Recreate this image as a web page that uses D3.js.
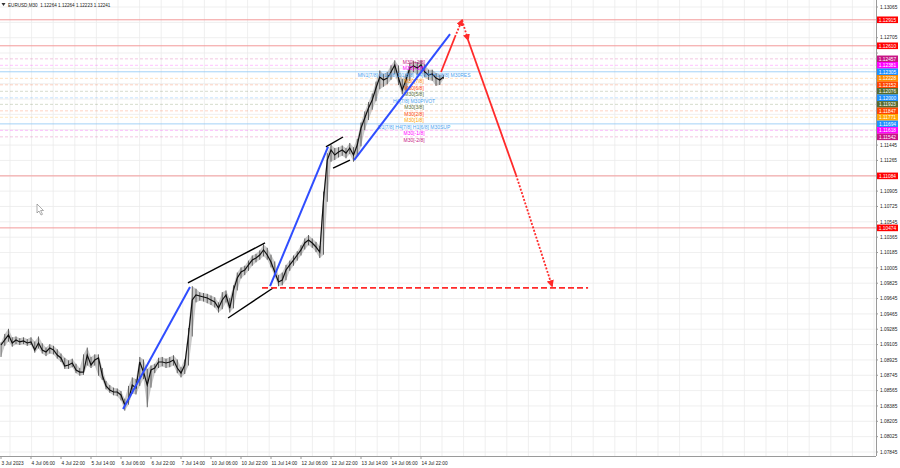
<!DOCTYPE html>
<html><head><meta charset="utf-8">
<script src="https://cdn.jsdelivr.net/npm/d3@7/dist/d3.min.js"></script>
<style>html,body{margin:0;padding:0;background:#fff;overflow:hidden}svg{display:block;font-family:"Liberation Sans",Arial,sans-serif}</style>
</head><body><svg id="c" width="900" height="468"></svg>
<script>
// ---------------- DATA ----------------
const titleText = "EURUSD,M30  1.12264 1.12264 1.12223 1.12241";
const lastPrice = 1.12241;
const barStepHours = 2; // one sample every 2 trading hours starting 3 Jul 14:00
const closes = [1.09100,1.09159,1.09218,1.09124,1.09159,1.09136,1.09147,1.09124,1.09136,1.09042,
1.09124,1.09042,1.09018,1.09065,1.09042,1.08983,1.08948,1.08854,1.08866,1.08889,
1.08807,1.08783,1.08783,1.08983,1.08866,1.08924,1.08948,1.08748,1.08619,1.08572,
1.08549,1.08549,1.08514,1.08397,1.08455,1.08631,1.08596,1.08901,1.08783,1.08631,
1.08807,1.08830,1.08901,1.08901,1.08889,1.08901,1.08924,1.08830,1.08772,1.08866,
1.09218,1.09628,1.09687,1.09675,1.09663,1.09651,1.09628,1.09604,1.09534,1.09628,
1.09687,1.09534,1.09745,1.09886,1.09956,1.09980,1.10039,1.10097,1.10121,1.10156,
1.10215,1.10156,1.10074,1.09956,1.09839,1.09863,1.09980,1.10039,1.10097,1.10156,
1.10215,1.10297,1.10332,1.10297,1.10250,1.10191,1.10801,1.11270,1.11388,1.11329,
1.11364,1.11388,1.11352,1.11411,1.11329,1.11446,1.11646,1.11763,1.11880,1.11974,
1.12115,1.12244,1.12209,1.12232,1.12303,1.12385,1.12232,1.12092,1.12209,1.12350,
1.12373,1.12350,1.12385,1.12303,1.12267,1.12279,1.12232,1.12209,1.12244];
const highs = [1.09130,1.09230,1.09290,1.09190,1.09200,1.09180,1.09190,1.09170,1.09190,1.09140,
1.09200,1.09120,1.09070,1.09110,1.09090,1.09050,1.09000,1.08950,1.08920,1.08940,
1.08880,1.08830,1.08990,1.09070,1.08960,1.08990,1.08990,1.08830,1.08680,1.08630,
1.08600,1.08590,1.08560,1.08470,1.08620,1.08720,1.08700,1.08960,1.08930,1.08820,
1.08860,1.08880,1.08950,1.08960,1.08940,1.08960,1.08980,1.08930,1.08840,1.08930,
1.09300,1.09790,1.09760,1.09720,1.09710,1.09700,1.09680,1.09660,1.09600,1.09720,
1.09740,1.09650,1.09800,1.09950,1.10010,1.10030,1.10090,1.10150,1.10170,1.10210,
1.10280,1.10240,1.10160,1.10080,1.09920,1.09950,1.10040,1.10090,1.10150,1.10200,
1.10270,1.10350,1.10390,1.10350,1.10310,1.10260,1.10900,1.11350,1.11450,1.11410,
1.11420,1.11440,1.11410,1.11470,1.11420,1.11520,1.11710,1.11840,1.11950,1.12050,
1.12190,1.12320,1.12280,1.12300,1.12380,1.12440,1.12380,1.12220,1.12280,1.12410,
1.12430,1.12420,1.12440,1.12390,1.12330,1.12330,1.12290,1.12270,1.12270];
const lows = [1.08960,1.09090,1.09140,1.09080,1.09110,1.09100,1.09110,1.09090,1.09100,1.09010,
1.09060,1.09000,1.08970,1.09000,1.08990,1.08940,1.08900,1.08820,1.08820,1.08840,
1.08770,1.08740,1.08750,1.08860,1.08830,1.08860,1.08740,1.08690,1.08580,1.08540,
1.08510,1.08500,1.08450,1.08330,1.08400,1.08530,1.08520,1.08620,1.08700,1.08370,
1.08600,1.08770,1.08830,1.08850,1.08830,1.08840,1.08860,1.08770,1.08720,1.08760,
1.08860,1.09200,1.09600,1.09620,1.09610,1.09590,1.09570,1.09540,1.09480,1.09520,
1.09600,1.09480,1.09530,1.09740,1.09880,1.09920,1.09970,1.10030,1.10070,1.10100,
1.10140,1.10100,1.10010,1.09900,1.09790,1.09800,1.09860,1.09970,1.10030,1.10090,
1.10150,1.10220,1.10270,1.10240,1.10190,1.10120,1.10160,1.10780,1.11250,1.11270,
1.11300,1.11320,1.11290,1.11340,1.11250,1.11320,1.11430,1.11620,1.11740,1.11860,
1.11960,1.12100,1.12130,1.12160,1.12210,1.12280,1.12150,1.12040,1.12080,1.12200,
1.12300,1.12270,1.12300,1.12240,1.12210,1.12200,1.12140,1.12150,1.12220];

const dateLabels = ["3 Jul 2023","4 Jul 06:00","4 Jul 22:00","5 Jul 14:00","6 Jul 06:00","6 Jul 22:00","7 Jul 14:00","10 Jul 06:00","10 Jul 22:00","11 Jul 14:00","12 Jul 06:00","12 Jul 22:00","13 Jul 14:00","14 Jul 06:00","14 Jul 22:00"];
const dateLabelHours = [0,16,32,48,64,80,96,112,128,144,160,176,192,208,224];

const priceTicks = ["1.13065","1.12885","1.12705","1.12525","1.12345","1.12165","1.11985","1.11805","1.11625","1.11445","1.11265","1.11085","1.10905","1.10725","1.10545","1.10365","1.10185","1.10005","1.09825","1.09645","1.09465","1.09285","1.09105","1.08925","1.08745","1.08565","1.08385","1.08205","1.08025","1.07845"];

// Red horizontal levels
const redLevels = [1.12915, 1.12610, 1.11084, 1.10474];

// Murrey-style levels
const levelNames = ["M30[+2/8]","M30[+1/8]","MN1[7/8] W1[5/8] D1[8/8] H4[8/8] H1[8/8] M30RES","M30[7/8]","M30[6/8]","M30[5/8]","H4[7/8] M30PIVOT","M30[3/8]","M30[2/8]","M30[1/8]","D1[7/8] H4[7/8] H1[6/8] M30SUP","M30[-1/8]","M30[-2/8]"];
const levelPrices = [1.12457,1.12381,1.12305,1.12228,1.12152,1.12076,1.12000,1.11923,1.11847,1.11771,1.11694,1.11618,1.11542];
const levelColors = ["#c71585","#ff00ff","#1e90ff","#ff8c00","#ff4500","#556b2f","#1e90ff","#556b2f","#ff4500","#ffa500","#1e90ff","#ff00ff","#c71585"];
const levelKinds = ["dot","dot","solid","dot","dot","dot","dot","dot","dot","dot","solid","dot","dot"];
const levelLabelHour = 220.3;

// Trend lines: [hour1, price1, hour2, price2]
const blueLines = [[65.1,1.08349,100.8,1.09781],[143.5,1.09792,174.4,1.11423],[188.3,1.11270,239.5,1.12748]];
const blackLines = [[99.7,1.09828,140.8,1.10297],[121.1,1.09417,145.1,1.09769],[173.3,1.11423,182.4,1.11540],[177.1,1.11176,186.1,1.11270]];
const targetLine = [139.2, 313.1, 1.09770];
// Forecast arrows: [h1,p1,h2,p2,style,arrowhead]
const forecast = [
  [234.7,1.12303,242.1,1.12713,"solid",false],
  [242.1,1.12713,245.9,1.12912,"dot",true],
  [245.9,1.12912,249.1,1.12678,"dot",true],
  [249.1,1.12678,274.7,1.11094,"solid",false],
  [274.7,1.11094,293.9,1.09792,"dot",true]
];

// ---------------- CHART ----------------
const W = 900, H = 468;
const plotRight = 876, plotBottom = 456;
const svg = d3.select("#c");
const x = d3.scaleLinear().domain([0, 16]).range([1, 31]);
const y = d3.scaleLinear().domain([1.07845, 1.13065]).range([452, 7]);

svg.append("rect").attr("width", W).attr("height", H).attr("fill", "#fff");

const plot = svg.append("g");
// grid
const gridStep = 11.52;
const gridHours = d3.range(4.8, x.invert(plotRight), gridStep);
plot.selectAll(".vg").data(gridHours).join("line")
  .attr("x1", d => x(d)).attr("x2", d => x(d)).attr("y1", 0).attr("y2", plotBottom)
  .attr("stroke", "#ebebeb").attr("stroke-width", 0.8);
plot.selectAll(".hg").data(priceTicks).join("line")
  .attr("x1", 0).attr("x2", plotRight).attr("y1", d => y(+d)).attr("y2", d => y(+d))
  .attr("stroke", "#ebebeb").attr("stroke-width", 0.8);

// red horizontal levels
plot.selectAll(".rl").data(redLevels).join("line")
  .attr("x1", 0).attr("x2", plotRight).attr("y1", d => y(d)).attr("y2", d => y(d))
  .attr("stroke", "#f39a9a").attr("stroke-width", 1);

// murrey level lines
plot.selectAll(".ml").data(levelPrices).join("line")
  .attr("x1", 0).attr("x2", plotRight).attr("y1", d => y(d)).attr("y2", d => y(d))
  .attr("stroke", (d, i) => levelKinds[i] === "solid" ? "#8cc6f5" : levelColors[i])
  .attr("stroke-opacity", (d, i) => levelKinds[i] === "solid" ? 1 : 0.3)
  .attr("stroke-dasharray", (d, i) => levelKinds[i] === "solid" ? null : "3,2")
  .attr("stroke-width", 0.8);

// price series
const hours = closes.map((d, i) => i * barStepHours);
const area = d3.area().x((d, i) => x(hours[i])).y0((d, i) => y(lows[i])).y1((d, i) => y(highs[i]));
plot.append("path").datum(closes).attr("d", area).attr("fill", "#8a8a8a").attr("fill-opacity", 0.45);
plot.selectAll(".bar").data(closes).join("line")
  .attr("x1", (d, i) => x(hours[i])).attr("x2", (d, i) => x(hours[i]))
  .attr("y1", (d, i) => y(highs[i])).attr("y2", (d, i) => y(lows[i]))
  .attr("stroke", "#444").attr("stroke-width", 0.8);
const line = d3.line().x((d, i) => x(hours[i])).y(d => y(d));
plot.append("path").datum(closes).attr("d", line).attr("fill", "none").attr("stroke", "#111").attr("stroke-width", 1.2);

// level labels
plot.selectAll(".lt").data(levelNames).join("text")
  .attr("x", x(levelLabelHour)).attr("y", (d, i) => y(levelPrices[i]) + 5)
  .attr("text-anchor", "middle").attr("font-size", 5)
  .attr("fill", (d, i) => levelColors[i] === "#1e90ff" ? "#4aa3f0" : levelColors[i])
  .text(d => d);

// markers
const defs = svg.append("defs");
defs.append("marker").attr("id", "ah").attr("viewBox", "0 0 10 10").attr("refX", 8).attr("refY", 5)
  .attr("markerWidth", 4).attr("markerHeight", 4).attr("orient", "auto")
  .append("path").attr("d", "M0,0 L10,5 L0,10 z").attr("fill", "#ff2a2a");

// black lines
plot.selectAll(".bk").data(blackLines).join("line")
  .attr("x1", d => x(d[0])).attr("y1", d => y(d[1])).attr("x2", d => x(d[2])).attr("y2", d => y(d[3]))
  .attr("stroke", "#000").attr("stroke-width", 1.4);
// blue lines
plot.selectAll(".bl").data(blueLines).join("line")
  .attr("x1", d => x(d[0])).attr("y1", d => y(d[1])).attr("x2", d => x(d[2])).attr("y2", d => y(d[3]))
  .attr("stroke", "#2f4dff").attr("stroke-width", 2);
// target dashed line
plot.append("line")
  .attr("x1", x(targetLine[0])).attr("x2", x(targetLine[1])).attr("y1", y(targetLine[2])).attr("y2", y(targetLine[2]))
  .attr("stroke", "#ff2a2a").attr("stroke-width", 1.6).attr("stroke-dasharray", "6,3");
// forecast arrows
plot.selectAll(".fc").data(forecast).join("line")
  .attr("x1", d => x(d[0])).attr("y1", d => y(d[1])).attr("x2", d => x(d[2])).attr("y2", d => y(d[3]))
  .attr("stroke", "#ff2a2a").attr("stroke-width", 1.8)
  .attr("stroke-dasharray", d => d[4] === "dot" ? "2,1.6" : null)
  .attr("marker-end", d => d[5] ? "url(#ah)" : null);

// cursor icon
svg.append("path").attr("transform", `translate(37,204)`)
  .attr("d", "M0,0 L0,9 L2,7 L4,11 L5.5,10.3 L3.6,6.5 L6.5,6.5 Z")
  .attr("fill", "#fff").attr("stroke", "#777").attr("stroke-width", 0.6);

// axes frame
svg.append("line").attr("x1", plotRight + 0.5).attr("x2", plotRight + 0.5).attr("y1", 0).attr("y2", plotBottom)
  .attr("stroke", "#9a9a9a").attr("stroke-width", 1);
svg.append("line").attr("x1", 0).attr("x2", plotRight).attr("y1", plotBottom + 0.5).attr("y2", plotBottom + 0.5)
  .attr("stroke", "#9a9a9a").attr("stroke-width", 1);

// price tick labels (hide those under coloured boxes)
const boxPrices = redLevels.concat(levelPrices, [lastPrice]);
const visibleTicks = priceTicks.filter(t => boxPrices.every(b => Math.abs(y(b) - y(+t)) > 6));
svg.selectAll(".pt").data(visibleTicks).join("text")
  .attr("x", plotRight + 4).attr("y", d => y(+d) + 1.8)
  .attr("font-size", 4.8).attr("fill", "#222").text(d => d);
svg.selectAll(".ptm").data(priceTicks).join("line")
  .attr("x1", plotRight).attr("x2", plotRight + 2).attr("y1", d => y(+d)).attr("y2", d => y(+d))
  .attr("stroke", "#9a9a9a");

// coloured price boxes
function box(price, color) {
  const g = svg.append("g");
  g.append("rect").attr("x", plotRight + 1).attr("y", y(price) - 3.3).attr("width", 21).attr("height", 6.6).attr("fill", color);
  g.append("text").attr("x", plotRight + 11.5).attr("y", y(price) + 1.8).attr("text-anchor", "middle")
    .attr("font-size", 4.8).attr("fill", "#fff").text(price.toFixed(5));
}
box(lastPrice, "#000");
redLevels.forEach(p => box(p, "#ff0000"));
levelPrices.forEach((p, i) => box(p, levelColors[i]));

// date labels
svg.selectAll(".dl").data(dateLabels).join("text")
  .attr("x", (d, i) => x(dateLabelHours[i]) + 0.5).attr("y", 465)
  .attr("font-size", 4.8).attr("fill", "#222").text(d => d);
svg.selectAll(".dtm").data(dateLabelHours).join("line")
  .attr("x1", d => x(d)).attr("x2", d => x(d)).attr("y1", plotBottom).attr("y2", plotBottom + 3)
  .attr("stroke", "#9a9a9a");

// title
svg.append("path").attr("d", "M1.5,3 L5.5,3 L3.5,6 Z").attr("fill", "#333");
svg.append("text").attr("x", 8).attr("y", 7).attr("font-size", 4.6).attr("fill", "#222")
  .attr("xml:space", "preserve").style("white-space", "pre").text(titleText);
</script></body></html>
